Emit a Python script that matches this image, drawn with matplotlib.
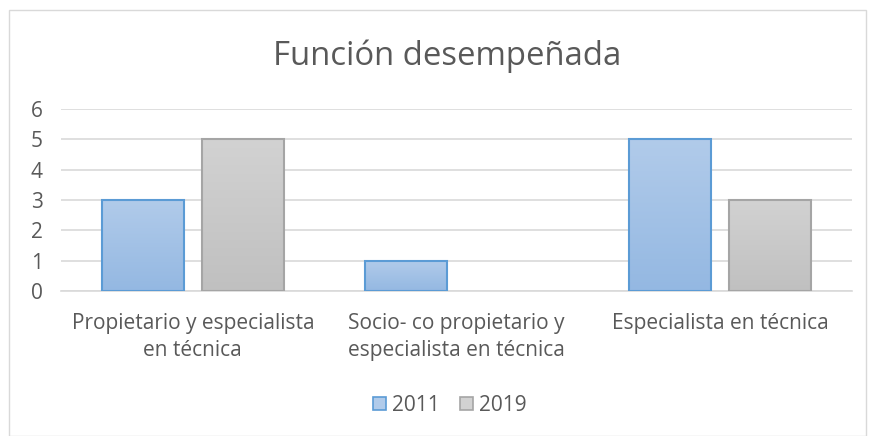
import matplotlib
matplotlib.use("Agg")
import matplotlib.pyplot as plt
import numpy as np
from matplotlib.patches import Rectangle
from matplotlib.colors import LinearSegmentedColormap

categories = ["Propietario y especialista\nen técnica",
              "Socio- co propietario y\nespecialista en técnica",
              "Especialista en técnica"]
series_names = ["2011", "2019"]
values_2011 = [3, 1, 5]
values_2019 = [5, 0, 3]
yticks = [0, 1, 2, 3, 4, 5, 6]
title = "Función desempeñada"

plt.rcParams['font.family'] = ['Open Sans', 'DejaVu Sans']

W, H = 871, 436
fig = plt.figure(figsize=(W/100, H/100), dpi=100)
fig.patches.append(Rectangle((9/W, 0), (866-9)/W, 1 - 10/H, transform=fig.transFigure,
                             fill=False, edgecolor="#d9d9d9", linewidth=1))

ax = fig.add_axes([61/W, 1 - 291/H, (852-61)/W, (291-109)/H])
x = np.arange(len(categories))
bw = 0.311
off = 0.19

styles = [
    dict(edge="#5b9bd5", top="#b1cbea", bot="#94b8e2"),
    dict(edge="#a5a5a5", top="#d2d2d2", bot="#c0c0c0"),
]

for vals, st, sgn, name in zip([values_2011, values_2019], styles, [-1, 1], series_names):
    bars = ax.bar(x + sgn*off, vals, bw, facecolor="none", edgecolor=st["edge"],
                  linewidth=1.5, zorder=3, label=name)
    cmap = LinearSegmentedColormap.from_list("g", [st["bot"], st["top"]])
    for b in bars:
        if b.get_height() <= 0:
            b.set_visible(False)
            continue
        grad = np.linspace(0, 1, 100).reshape(-1, 1)
        im = ax.imshow(grad, cmap=cmap, aspect="auto", origin="lower",
                       extent=[b.get_x(), b.get_x()+b.get_width(), 0, b.get_height()],
                       zorder=2)
        im.set_clip_path(b)

ax.set_xlim(-0.5, 2.5)
ax.set_ylim(0, 6)
ax.set_yticks(yticks)
ax.set_xticks(x)
ax.set_xticklabels(categories, fontsize=15, color="#595959", linespacing=1.38)
ax.tick_params(axis="y", labelsize=15, labelcolor="#595959", length=0, pad=13)
ax.tick_params(axis="x", length=0, pad=16)
ax.grid(axis="y", color="#d9d9d9", linewidth=1.2, zorder=0)
ax.set_axisbelow(True)
for s in ["top", "right", "left"]:
    ax.spines[s].set_visible(False)
ax.spines["bottom"].set_color("#d9d9d9")
ax.spines["bottom"].set_linewidth(1.2)

fig.text(447/W, 1 - 56/H, title, ha="center", va="center", fontsize=23.7, color="#595959")

handles = [Rectangle((0, 0), 1, 1, facecolor=st["top"], edgecolor=st["edge"], linewidth=1.2)
           for st in styles]
fig.legend(handles, series_names, loc="center", bbox_to_anchor=(450/W, 1 - 405/H), ncol=2,
           frameon=False, fontsize=15, labelcolor="#595959", handlelength=0.6,
           handleheight=0.6, handletextpad=0.3, columnspacing=1.0)

fig.savefig("out.png", dpi=100)
